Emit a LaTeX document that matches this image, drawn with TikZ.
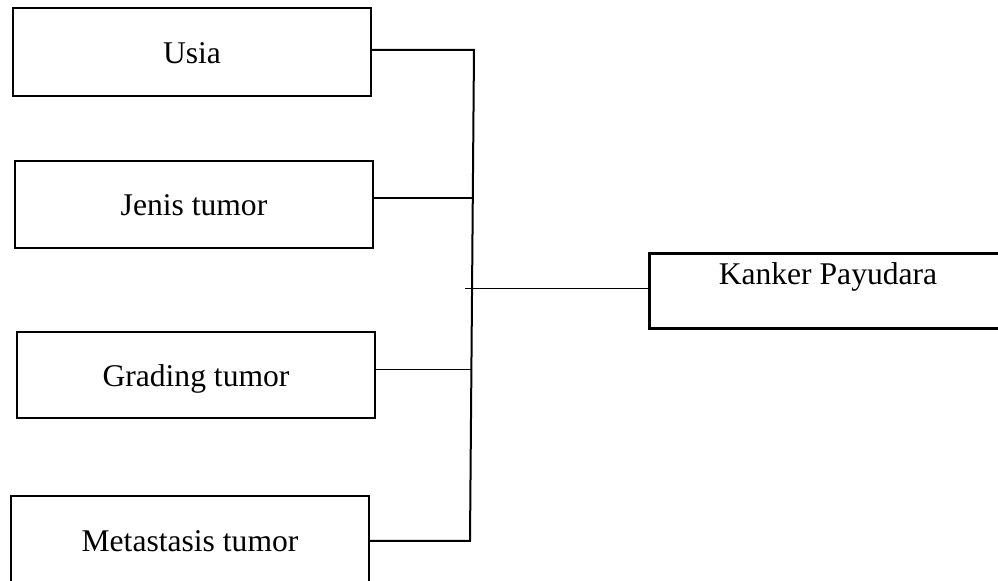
\documentclass[tikz,border=0pt]{standalone}
\usepackage{fontspec}
\setmainfont{Liberation Serif}
\begin{document}
\begin{tikzpicture}[x=0.5pt,y=-0.5pt,
  factor/.style={draw, line width=1pt, inner sep=0pt, outer sep=0pt,
    anchor=north west, minimum width=179pt,
    font=\fontsize{15.8}{19}\selectfont},
  outcome/.style={factor, line width=1.5pt},
  thickline/.style={line width=1pt},
  thinline/.style={line width=0.5pt}]
\path[use as bounding box, clip] (0,0) rectangle (998,581);

% variable boxes
\node[factor, text height=28pt,   text depth=16pt]   (usia)    at (13,8)    {Usia};
\node[factor, text height=27.5pt, text depth=16pt]   (jenis)   at (15,161)  {Jenis tumor};
\node[factor, text height=27.5pt, text depth=15.5pt] (grading) at (17,332)  {Grading tumor};
\node[factor, text height=28pt,   text depth=24pt]   (meta)    at (11,496)  {Metastasis tumor};
% outcome box runs past the right edge of the page
\node[outcome, text height=15.5pt, text depth=22pt]  (kanker)  at (649,254) {Kanker Payudara};

% joining trunk
\coordinate (top) at (474,50);
\coordinate (bot) at (470,541);
\coordinate (tj)  at (472.5,198);
\coordinate (tg)  at (471.5,370);
\coordinate (tk)  at (465,289);

\draw[thickline] (usia.east |- top) -- (top) -- (bot) -- (meta.east |- bot);
\draw[thickline] (jenis.east |- tj) -- (tj);
\draw[thinline] (grading.east |- tg) -- (tg);
\draw[thinline] (tk) -- (kanker.west |- tk);
\end{tikzpicture}
\end{document}
